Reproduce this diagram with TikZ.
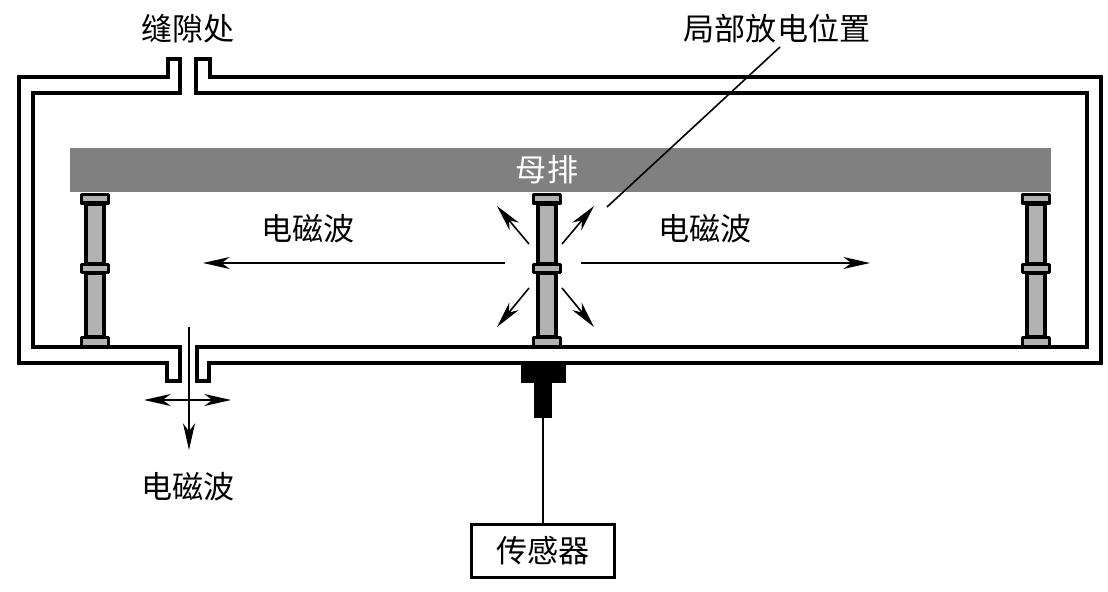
\documentclass[tikz,border=0pt]{standalone}
\usepackage{fontspec}
\setmainfont{Noto Sans CJK SC}
\usetikzlibrary{arrows.meta}
\tikzset{
  wall/.style={line width=2.5pt,line join=miter,draw=black},
  insulbody/.style={line width=2.4pt,draw=black,fill=black!30,line join=round},
  wave/.style={line width=1.2pt,-{Stealth[length=20pt,width=9pt,inset=6pt]}},
  wavetwo/.style={line width=1.2pt,{Stealth[length=20pt,width=9pt,inset=6pt]}-{Stealth[length=20pt,width=9pt,inset=6pt]}},
  thinline/.style={line width=1.2pt},
  lab/.style={font=\fontsize{23.3pt}{25pt}\selectfont,inner sep=0pt},
  barlab/.style={lab,text=white},
  busbar/.style={fill=black!50,draw=none,minimum width=735.75pt,minimum height=33pt,inner sep=0pt},
  sensorhead/.style={fill=black,draw=none,minimum width=33.75pt,minimum height=15pt,inner sep=0pt},
  sensorstem/.style={fill=black,draw=none,minimum width=13.5pt,minimum height=27pt,inner sep=0pt},
  sensorbox/.style={draw=black,line width=2.4pt,fill=white,minimum width=107pt,minimum height=39.5pt,inner sep=0pt,outer sep=0pt,font=\fontsize{23.3pt}{25pt}\selectfont}
}
\begin{document}
\begin{tikzpicture}[x=0.75pt,y=-0.75pt]
\useasboundingbox (0,0) rectangle (1108,592);
% enclosure
\draw[wall] (180,93) -- (33,93) -- (33,347) -- (180,347) -- (180,381) -- (167,381) -- (167,363) -- (19,363) -- (19,77) -- (168,77) -- (168,59) -- (180,59) -- cycle;
\draw[wall] (196,93) -- (1087,93) -- (1087,347) -- (197,347) -- (197,381) -- (209,381) -- (209,363) -- (1101,363) -- (1101,77) -- (210,77) -- (210,59) -- (196,59) -- cycle;
% busbar
\node[busbar] (bar) at (560.5,170) {};
\node[barlab] (barl) at (547,170) {母排};
% insulators
\foreach \cx in {95,547,1036}{
  \draw[insulbody] (\cx-9,204) rectangle (\cx+9,264);
  \draw[insulbody] (\cx-9,273) rectangle (\cx+9,337);
  \draw[insulbody] (\cx-13.5,194.5) rectangle (\cx+13.5,203);
  \draw[insulbody] (\cx-13.5,264.5) rectangle (\cx+13.5,272.5);
  \draw[insulbody] (\cx-13.5,337.5) rectangle (\cx+13.5,346.5);
}
% sensor
\node[sensorhead] (head) at (543.5,373) {};
\node[sensorstem] (stem) at (543,400) {};
\node[sensorbox] (box) at (543,551) {传感器};
\draw[thinline] (stem.south) -- (box.north);
% labels
\node[lab] (gaplab) at (188,29) {缝隙处};
\node[lab] (pdlab) at (777,29) {局部放电位置};
\node[lab] (emleft) at (308,229) {电磁波};
\node[lab] (emright) at (705,229) {电磁波};
\node[lab] (embottom) at (188,487) {电磁波};
% leader
\coordinate (pdpoint) at (607,207);
\coordinate (pdstart) at (780,47);
\draw[thinline] (pdstart) -- (pdpoint);
% wave arrows
\coordinate (cl) at (505,263); \coordinate (lt) at (203,263);
\coordinate (cr) at (581,263); \coordinate (rt) at (870,263);
\draw[wave] (cl) -- (lt);
\draw[wave] (cr) -- (rt);
\coordinate (a1) at (529,244); \coordinate (b1) at (497,206);
\coordinate (a2) at (562,244); \coordinate (b2) at (594,206);
\coordinate (a3) at (529,288); \coordinate (b3) at (497,327);
\coordinate (a4) at (562,288); \coordinate (b4) at (594,327);
\draw[wave] (a1) -- (b1);
\draw[wave] (a2) -- (b2);
\draw[wave] (a3) -- (b3);
\draw[wave] (a4) -- (b4);
% gap arrows
\coordinate (gs) at (189,327); \coordinate (ge) at (189,450);
\coordinate (hl) at (144,400); \coordinate (hr) at (231,400);
\draw[wave] (gs) -- (ge);
\draw[wavetwo] (hl) -- (hr);
\end{tikzpicture}
\end{document}
